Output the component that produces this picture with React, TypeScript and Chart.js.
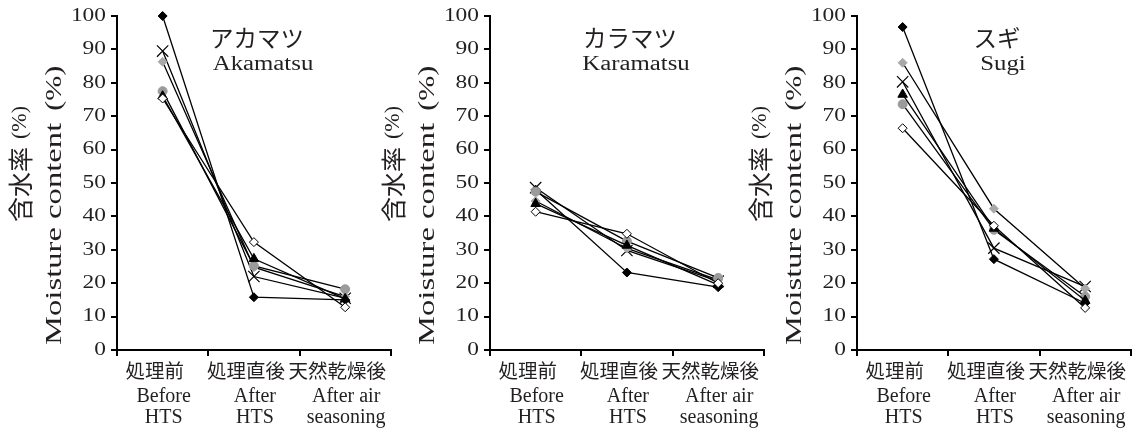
import React, { useEffect, useRef } from 'react';
import { Chart, registerables } from 'chart.js';

Chart.register(...registerables);

// ---------- data ----------
const categoriesJa = ['処理前', '処理直後', '天然乾燥後'];
const categoriesEn = [['Before', 'HTS'], ['After', 'HTS'], ['After air', 'seasoning']];
const yTickValues = [0, 10, 20, 30, 40, 50, 60, 70, 80, 90, 100];

const speciesJa = ['アカマツ', 'カラマツ', 'スギ'];
const speciesEn = ['Akamatsu', 'Karamatsu', 'Sugi'];

const yTitleJa = '含水率';
const yTitleEn = 'Moisture content';
const yTitleUnit = '(%)';

// Akamatsu
const akaBlackDiamond = [100, 15.8, 15.0];
const akaCross = [89.5, 22.0, 15.5];
const akaGrayDiamond = [86.3, 24.8, 16.0];
const akaGrayCircle = [77.5, 25.2, 18.2];
const akaWhiteDiamond = [75.3, 32.3, 12.8];
const akaTriangle = [76.0, 27.3, 15.3];

// Karamatsu
const karBlackDiamond = [48.0, 23.2, 18.8];
const karCross = [48.6, 29.8, 20.6];
const karGrayDiamond = [44.6, 30.4, 21.0];
const karGrayCircle = [47.4, 32.6, 21.6];
const karWhiteDiamond = [41.4, 34.8, 20.0];
const karTriangle = [43.8, 31.3, 19.5];

// Sugi
const sugBlackDiamond = [96.7, 27.2, 14.0];
const sugCross = [80.3, 30.5, 19.0];
const sugGrayDiamond = [86.0, 42.3, 18.4];
const sugGrayCircle = [73.6, 36.0, 16.0];
const sugWhiteDiamond = [66.4, 37.2, 12.6];
const sugTriangle = [76.5, 36.4, 14.8];

// ---------- styles ----------
const seriesStyles = [
  { style: 'rectRot', bg: '#ffffff', border: '#000000', radius: 4.5, bw: 1 },
  { style: 'triangle', bg: '#000000', border: '#000000', radius: 5.5, bw: 1 },
  { style: 'circle', bg: '#9b9b9b', border: '#9b9b9b', radius: 4.5, bw: 1 },
  { style: 'rectRot', bg: '#a8a8a8', border: '#a8a8a8', radius: 4.5, bw: 1 },
  { style: 'crossRot', bg: '#000000', border: '#000000', radius: 8, bw: 1.2 },
  { style: 'rectRot', bg: '#000000', border: '#000000', radius: 4.5, bw: 1 },
];

const panelSeries = [
  [akaWhiteDiamond, akaTriangle, akaGrayCircle, akaGrayDiamond, akaCross, akaBlackDiamond],
  [karWhiteDiamond, karTriangle, karGrayCircle, karGrayDiamond, karCross, karBlackDiamond],
  [sugWhiteDiamond, sugTriangle, sugGrayCircle, sugGrayDiamond, sugCross, sugBlackDiamond],
];

const panelLeft = [0, 373, 740];
const CANVAS_W = 400;
const CANVAS_H = 430;
const AXIS_X = 117;
const TEXT = '#231f20';
const SERIF = '"Liberation Serif", "Times New Roman", serif';
const CJK = '"Noto Sans CJK JP", "Noto Sans CJK SC", sans-serif';

type Seg = { text: string; font: string; sx?: number; gap?: number };

function drawRun(
  ctx: CanvasRenderingContext2D,
  x: number,
  y: number,
  angle: number,
  segs: Seg[],
  align: 'left' | 'center' | 'right'
) {
  let total = 0;
  const widths: number[] = [];
  for (const s of segs) {
    ctx.font = s.font;
    const w = ctx.measureText(s.text).width * (s.sx ?? 1);
    widths.push(w);
    total += w + (s.gap ?? 0);
  }
  let cursor = align === 'left' ? 0 : align === 'center' ? -total / 2 : -total;
  ctx.save();
  ctx.translate(x, y);
  ctx.rotate(angle);
  ctx.fillStyle = TEXT;
  ctx.textBaseline = 'middle';
  ctx.textAlign = 'left';
  segs.forEach((s, i) => {
    cursor += s.gap ?? 0;
    ctx.save();
    ctx.font = s.font;
    ctx.translate(cursor, 0);
    ctx.scale(s.sx ?? 1, 1);
    ctx.fillText(s.text, 0, 0);
    ctx.restore();
    cursor += widths[i];
  });
  ctx.restore();
}

function makeTextPlugin(panel: number) {
  return {
    id: 'panelText' + panel,
    afterDraw(chart: any) {
      const ctx: CanvasRenderingContext2D = chart.ctx;
      const xs = chart.scales.x;
      const ys = chart.scales.y;
      const ax = chart.chartArea.left;

      // y tick labels
      yTickValues.forEach((v) => {
        const py = ys.getPixelForValue(v);
        drawRun(ctx, ax - 11, py, 0, [{ text: String(v), font: `18px ${SERIF}`, sx: 1.3 }], 'right');
      });

      // x category labels
      categoriesJa.forEach((lab, i) => {
        const px = xs.getPixelForValue(i);
        drawRun(ctx, px - 8, 371, 0, [{ text: lab, font: `19.5px ${CJK}` }], 'center');
        categoriesEn[i].forEach((line, j) => {
          drawRun(ctx, px + 1, 397 + j * 21, 0, [{ text: line, font: `20px ${SERIF}` }], 'center');
        });
      });

      // y axis titles (rotated)
      drawRun(
        ctx,
        ax - 97,
        222,
        -Math.PI / 2,
        [
          { text: yTitleJa, font: `25px ${CJK}` },
          { text: yTitleUnit, font: `22px ${SERIF}`, gap: 8 },
        ],
        'left'
      );
      drawRun(
        ctx,
        ax - 62,
        345,
        -Math.PI / 2,
        [
          { text: yTitleEn, font: `23px ${SERIF}`, sx: 1.42 },
          { text: yTitleUnit, font: `24px ${SERIF}`, sx: 1.25, gap: 12 },
        ],
        'left'
      );

      // panel titles
      drawRun(ctx, ax + 140, 38, 0, [{ text: speciesJa[panel], font: `23.5px ${CJK}` }], 'center');
      drawRun(ctx, ax + 146, 65, 0, [{ text: speciesEn[panel], font: `20px ${SERIF}`, sx: 1.24 }], 'center');
    },
  };
}

function Panel({ index }: { index: number }) {
  const ref = useRef<HTMLCanvasElement>(null);
  useEffect(() => {
    const canvas = ref.current!;
    const datasets = panelSeries[index].map((values, i) => {
      const st = seriesStyles[i];
      return {
        data: values,
        borderColor: '#000000',
        borderWidth: 1.3,
        tension: 0,
        fill: false,
        clip: false as any,
        pointStyle: st.style as any,
        pointRadius: st.radius,
        pointBackgroundColor: st.bg,
        pointBorderColor: st.border,
        pointBorderWidth: st.bw,
      };
    });
    const chart = new Chart(canvas, {
      type: 'line',
      data: { labels: categoriesJa, datasets },
      options: {
        responsive: false,
        animation: false,
        events: [],
        layout: { padding: { top: 16, right: 9, left: 0, bottom: 0 } },
        plugins: {
          legend: { display: false },
          tooltip: { enabled: false },
          title: { display: false },
        },
        scales: {
          x: {
            type: 'category',
            offset: true,
            grid: {
              display: true,
              drawOnChartArea: false,
              drawTicks: true,
              tickLength: 6,
              offset: true,
              color: '#000000',
              lineWidth: 2,
            },
            border: { display: true, color: '#000000', width: 2 },
            ticks: { display: false },
            afterFit: (s: any) => {
              s.height = 80;
            },
          },
          y: {
            min: 0,
            max: 100,
            ticks: { display: false, stepSize: 10 },
            grid: {
              display: true,
              drawOnChartArea: false,
              drawTicks: true,
              tickLength: 6,
              color: '#000000',
              lineWidth: 2,
            },
            border: { display: true, color: '#000000', width: 2 },
            afterFit: (s: any) => {
              s.width = AXIS_X;
            },
          },
        },
      },
      plugins: [makeTextPlugin(index)],
    });
    return () => chart.destroy();
  }, [index]);
  return (
    <canvas
      ref={ref}
      width={CANVAS_W}
      height={CANVAS_H}
      style={{ position: 'absolute', left: panelLeft[index], top: 0, width: CANVAS_W, height: CANVAS_H }}
    />
  );
}

export default function App() {
  return (
    <div style={{ position: 'absolute', left: 0, top: 0, width: 1146, height: 430, background: '#ffffff', overflow: 'hidden' }}>
      <Panel index={0} />
      <Panel index={1} />
      <Panel index={2} />
    </div>
  );
}
